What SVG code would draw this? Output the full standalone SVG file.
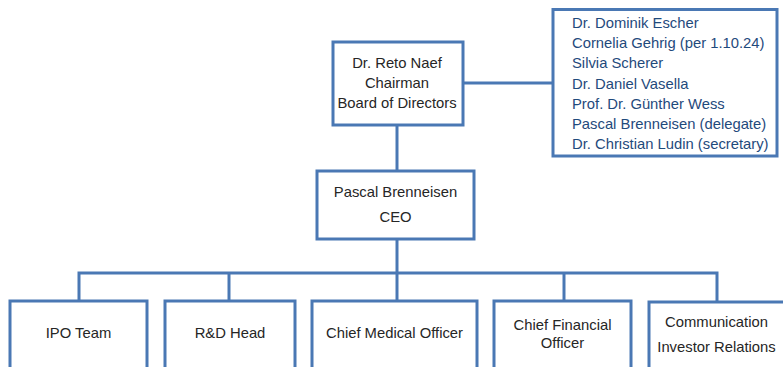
<svg xmlns="http://www.w3.org/2000/svg" width="783" height="367" viewBox="0 0 783 367">
<style>
.box{fill:#ffffff;stroke:#4A78B4;stroke-width:3}
.ln{fill:none;stroke:#4A78B4;stroke-width:3}
.t{font-family:"Liberation Sans",Arial,sans-serif;font-size:14.8px;fill:#262626;text-anchor:middle}
.b{font-family:"Liberation Sans",Arial,sans-serif;font-size:14.8px;fill:#1F4A7C}
</style>
<rect width="783" height="367" fill="#ffffff"/>
<g id="connectors">
<line class="ln" x1="463" y1="83" x2="553" y2="83"/>
<line class="ln" x1="397" y1="125" x2="397" y2="171"/>
<line class="ln" x1="397" y1="239" x2="397" y2="301"/>
<polyline class="ln" points="79,301 79,273 717,273 717,302"/>
<line class="ln" x1="229" y1="273" x2="229" y2="301"/>
<line class="ln" x1="564" y1="273" x2="564" y2="301"/>
</g>
<g id="chairman">
<rect class="box" x="333" y="42" width="130" height="83"/>
<text class="t" x="397" y="68">Dr. Reto Naef</text>
<text class="t" x="397" y="88">Chairman</text>
<text class="t" x="397" y="108">Board of Directors</text>
</g>
<g id="board">
<rect class="box" x="553" y="9.5" width="224" height="146.5"/>
<text class="b" x="572" y="28">Dr. Dominik Escher</text>
<text class="b" x="572" y="48">Cornelia Gehrig (per 1.10.24)</text>
<text class="b" x="572" y="68">Silvia Scherer</text>
<text class="b" x="572" y="88.5">Dr. Daniel Vasella</text>
<text class="b" x="572" y="108.5">Prof. Dr. Günther Wess</text>
<text class="b" x="572" y="129">Pascal Brenneisen (delegate)</text>
<text class="b" x="572" y="149">Dr. Christian Ludin (secretary)</text>
</g>
<g id="ceo">
<rect class="box" x="317" y="171" width="157" height="68"/>
<text class="t" x="395.5" y="197">Pascal Brenneisen</text>
<text class="t" x="395.5" y="222">CEO</text>
</g>
<g id="ipo">
<rect class="box" x="10" y="301" width="137" height="80"/>
<text class="t" x="78.5" y="338">IPO Team</text>
</g>
<g id="rnd">
<rect class="box" x="165" y="301" width="130" height="80"/>
<text class="t" x="230" y="338">R&amp;D Head</text>
</g>
<g id="cmo">
<rect class="box" x="312" y="301" width="165" height="80"/>
<text class="t" x="394.5" y="338">Chief Medical Officer</text>
</g>
<g id="cfo">
<rect class="box" x="494" y="301" width="137" height="80"/>
<text class="t" x="562.5" y="330">Chief Financial</text>
<text class="t" x="562.5" y="348">Officer</text>
</g>
<g id="communication">
<rect class="box" x="649" y="302" width="150" height="80"/>
<text class="t" x="716.5" y="327">Communication</text>
<text class="t" x="716.5" y="352">Investor Relations</text>
</g>
</svg>
